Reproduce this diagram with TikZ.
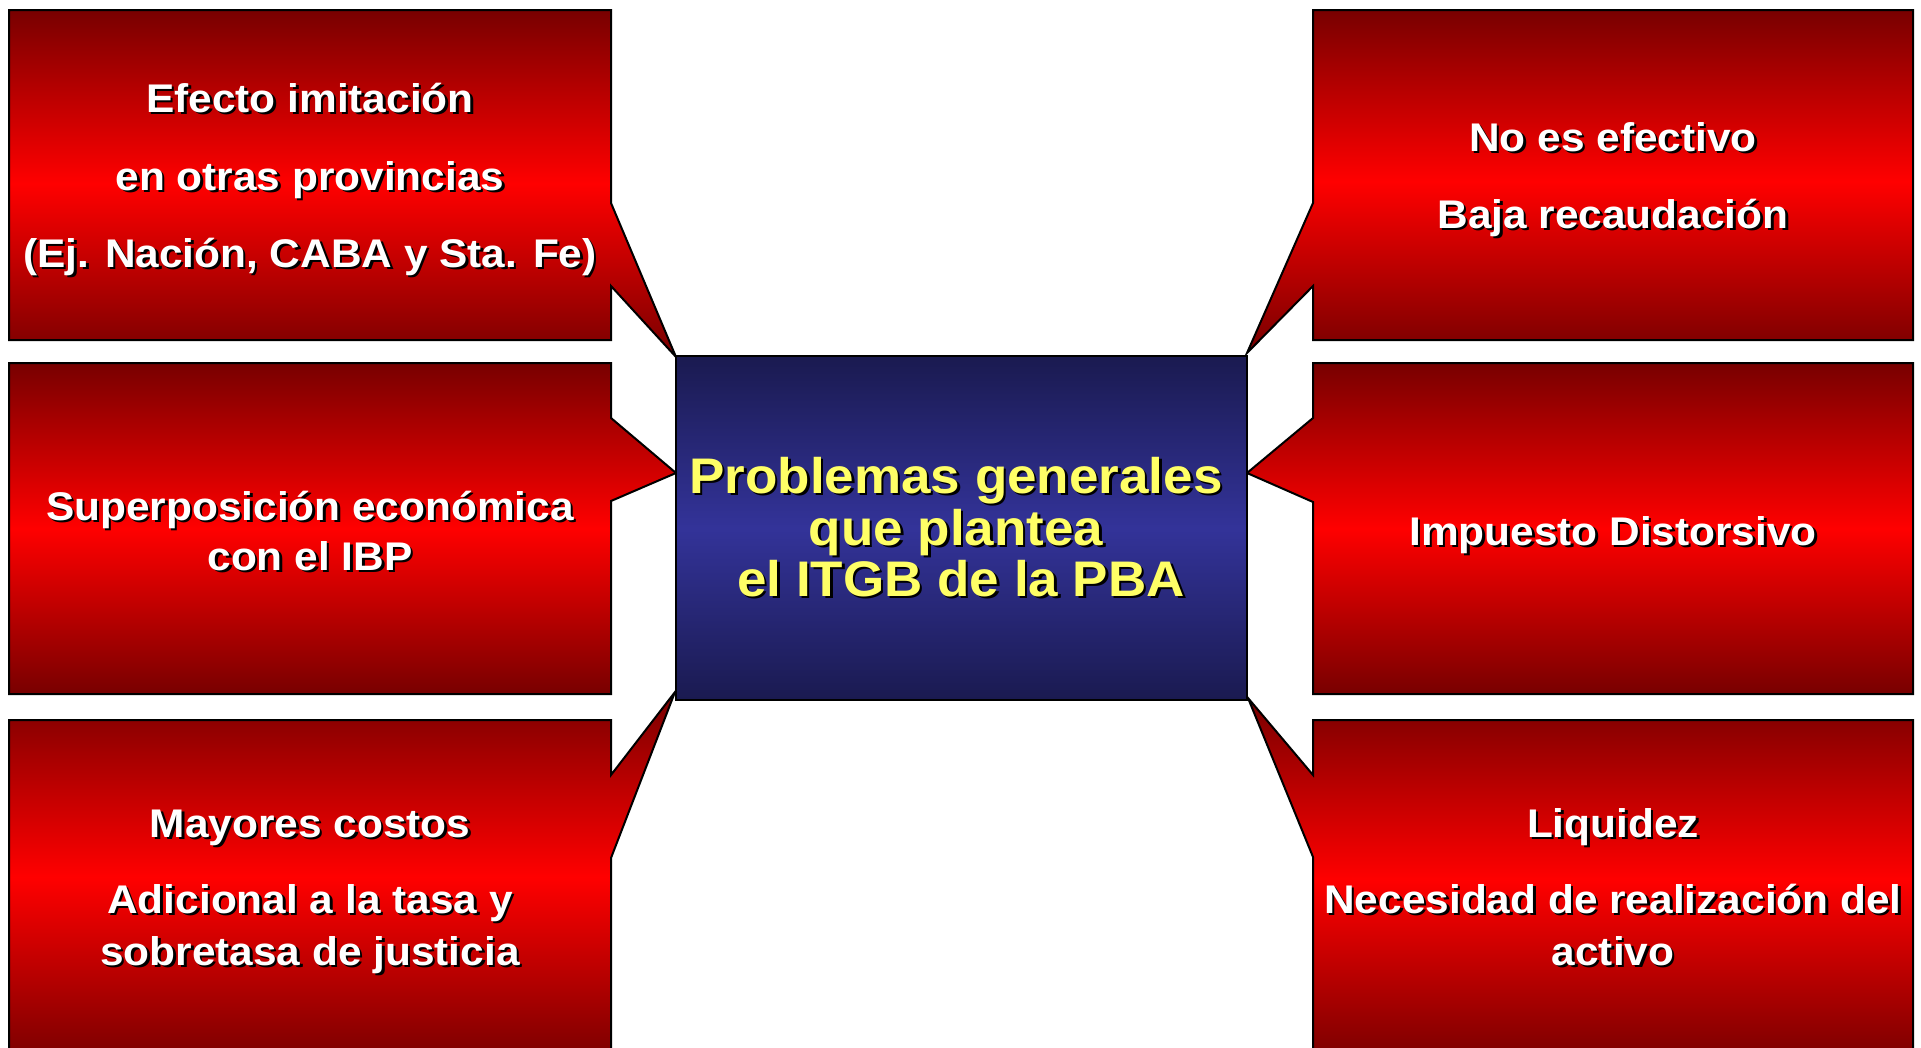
\documentclass[tikz,border=0pt]{standalone}
\usepackage{fontspec}
\setmainfont{Liberation Sans}
\usepackage{graphicx}
\definecolor{dkred}{RGB}{120,0,0}
\definecolor{brred}{RGB}{255,0,0}
\definecolor{dknavy}{RGB}{26,26,80}
\definecolor{mdnavy}{RGB}{51,51,153}
\definecolor{ylw}{RGB}{255,255,102}
\tikzset{
  redbox/.style={top color=dkred, bottom color=dkred, middle color=brred, draw=black, line width=2},
  txtline/.style={anchor=base, inner sep=0pt, outer sep=0pt},
}
\newcommand\shline[5]{% name, coord (x,y without parens), size, colour, text
  \node[txtline, text=black, font=\fontsize{#3}{#3}\selectfont\bfseries] (#1s) at ([shift={(2.5,2.5)}]#2) {\scalebox{1.06}[1]{#5}};
  \node[txtline, text=#4, font=\fontsize{#3}{#3}\selectfont\bfseries] (#1) at (#2) {\scalebox{1.06}[1]{#5}};
}
\begin{document}
\begin{tikzpicture}[x=1pt, y=-1pt]
\useasboundingbox (0,0) rectangle (1921,1047);
\clip (0,0) rectangle (1921,1047);
\fill[white] (0,0) rectangle (1921,1047);

% left callouts
\shade[redbox] (9,10) -- (611,10) -- (611,203) -- (676,357) -- (611,286) -- (611,340) -- (9,340) -- cycle;
\shade[redbox] (9,363) -- (611,363) -- (611,418) -- (676,473) -- (611,501) -- (611,694) -- (9,694) -- cycle;
\shade[redbox] (9,720) -- (611,720) -- (611,775) -- (675,692) -- (611,858) -- (611,1062) -- (9,1062) -- cycle;

% right callouts
\shade[redbox] (1313,10) -- (1913,10) -- (1913,340) -- (1313,340) -- (1313,286) -- (1247,353) -- (1313,203) -- cycle;
\shade[redbox] (1313,363) -- (1913,363) -- (1913,694) -- (1313,694) -- (1313,502) -- (1247,473) -- (1313,418) -- cycle;
\shade[redbox] (1313,720) -- (1913,720) -- (1913,1062) -- (1313,1062) -- (1313,857) -- (1248,698) -- (1313,775) -- cycle;

% centre box
\node[draw=black, line width=2, top color=dknavy, bottom color=dknavy, middle color=mdnavy,
      minimum width=571, minimum height=344, inner sep=0pt] (ctr) at (961.5,528) {};

% texts
\shline{a1}{310,112}{40}{white}{Efecto imitación}
\shline{a2}{310,190}{40}{white}{en otras provincias}
\shline{a3}{310,267}{40}{white}{(Ej. Nación, CABA y Sta. Fe)}

\shline{b1}{310,520}{40}{white}{Superposición económica}
\shline{b2}{310,570}{40}{white}{con el IBP}

\shline{c1}{310,837}{40}{white}{Mayores costos}
\shline{c2}{310,913}{40}{white}{Adicional a la tasa y}
\shline{c3}{310,965}{40}{white}{sobretasa de justicia}

\shline{d1}{1613,151}{40}{white}{No es efectivo}
\shline{d2}{1613,228}{40}{white}{Baja recaudación}

\shline{e1}{1613,545}{40}{white}{Impuesto Distorsivo}

\shline{f1}{1613,837}{40}{white}{Liquidez}
\shline{f2}{1613,913}{40}{white}{Necesidad de realización del}
\shline{f3}{1613,965}{40}{white}{activo}

\shline{g1}{956,493}{50}{ylw}{Problemas generales}
\shline{g2}{956,545}{50}{ylw}{que plantea}
\shline{g3}{961,596}{50}{ylw}{el ITGB de la PBA}
\end{tikzpicture}
\end{document}
